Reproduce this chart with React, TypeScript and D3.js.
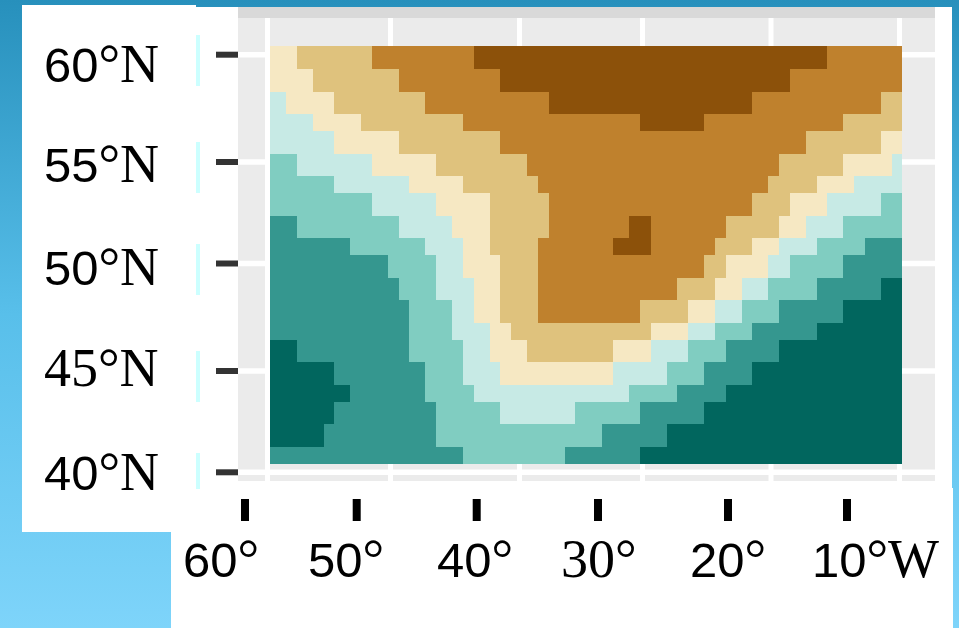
import React from "react";
import * as d3 from "d3";

const lonTicks = [-60, -50, -40, -30, -20, -10];
const latTicks = [60, 55, 50, 45, 40];
const lonLabels = ["60", "50", "40", "30", "20", "10"];
const latLabels = ["60", "55", "50", "45", "40"];
const serifDigits = ["45", "30"];

// cell edges in degrees
const lonEdges = [
  -59.8, -58.5, -57.6, -56.3, -55.41, -54.59, -53.29, -52.4, -51.5, -50.2,
  -49.34, -48.57, -47.33, -46.47, -45.23, -44.38, -43.53, -42.29, -41.51, -40.66,
  -39.39, -38.5, -37.6, -36.3, -35.49, -34.19, -33.29, -32.4, -31.1, -30.2,
  -29.34, -28.09, -27.32, -26.46, -25.21, -24.36, -23.5, -22.26, -21.48, -20.23,
  -19.38, -18.52, -17.28, -16.42, -15.64, -14.4, -13.54, -12.68, -11.44, -10.58, -9.81,
];
const latEdges = [
  60.4, 59.33, 58.26, 57.24, 56.44, 55.37, 54.31, 53.47, 52.34, 51.26, 50.42,
  49.33, 48.3, 47.23, 46.44, 45.42, 44.31, 43.47, 42.38, 41.25, 40.41,
];

// one row per latitude band, north to south: [level, end column]
const levelRuns: [number, number][][] = [
  [[3, 2], [2, 8], [1, 16], [0, 44], [1, 50]],
  [[3, 3], [2, 10], [1, 18], [0, 41], [1, 50]],
  [[4, 1], [3, 5], [2, 12], [1, 22], [0, 38], [1, 48], [2, 50]],
  [[4, 3], [3, 7], [2, 15], [1, 29], [0, 34], [1, 45], [2, 50]],
  [[4, 5], [3, 10], [2, 18], [1, 42], [2, 48], [3, 50]],
  [[5, 2], [4, 8], [3, 13], [2, 20], [1, 40], [2, 45], [3, 49], [4, 50]],
  [[5, 5], [4, 11], [3, 15], [2, 21], [1, 39], [2, 43], [3, 46], [4, 50]],
  [[5, 8], [4, 13], [3, 17], [2, 22], [1, 38], [2, 41], [3, 44], [4, 48], [5, 50]],
  [[6, 2], [5, 10], [4, 14], [3, 17], [2, 22], [1, 28], [0, 30], [1, 36], [2, 40], [3, 42], [4, 45], [5, 50]],
  [[6, 6], [5, 12], [4, 15], [3, 17], [2, 21], [1, 27], [0, 30], [1, 35], [2, 38], [3, 40], [4, 43], [5, 47], [6, 50]],
  [[6, 9], [5, 13], [4, 15], [3, 18], [2, 21], [1, 34], [2, 36], [3, 39], [4, 41], [5, 45], [6, 50]],
  [[6, 10], [5, 13], [4, 16], [3, 18], [2, 21], [1, 32], [2, 35], [3, 37], [4, 39], [5, 43], [6, 48], [7, 50]],
  [[6, 11], [5, 14], [4, 16], [3, 18], [2, 21], [1, 29], [2, 33], [3, 35], [4, 37], [5, 40], [6, 45], [7, 50]],
  [[6, 11], [5, 14], [4, 17], [3, 19], [2, 30], [3, 33], [4, 35], [5, 38], [6, 43], [7, 50]],
  [[7, 2], [6, 11], [5, 15], [4, 17], [3, 20], [2, 27], [3, 30], [4, 33], [5, 36], [6, 40], [7, 50]],
  [[7, 5], [6, 12], [5, 15], [4, 18], [3, 27], [4, 31], [5, 34], [6, 38], [7, 50]],
  [[7, 6], [6, 12], [5, 16], [4, 28], [5, 32], [6, 36], [7, 50]],
  [[7, 5], [6, 13], [5, 18], [4, 24], [5, 29], [6, 34], [7, 50]],
  [[7, 4], [6, 13], [5, 26], [6, 31], [7, 50]],
  [[6, 15], [5, 23], [6, 29], [7, 50]],
];

const levelColors = ["#8c510a", "#bf812d", "#dfc27d", "#f6e8c3", "#c7eae5", "#80cdc1", "#35978f", "#01665e"];

const W = 959;
const H = 628;
const SANS = "'Liberation Sans', Arial, sans-serif";
const SERIF = "'Liberation Serif', 'Times New Roman', serif";
const FS_SANS = 49;
const FS_SERIF = 54;

// the image was resampled unevenly, so the scales carry one knot per tick
const x = d3.scaleLinear().domain(lonTicks).range([267.5, 390.5, 519.5, 642.5, 771, 899.5]);
const y = d3.scaleLinear().domain(latTicks).range([54.7, 162, 263.5, 371, 472.3]);

// pasted-over labels and tick marks sit at their own spots
const xMark = d3.scaleOrdinal<number, number>().domain(lonTicks).range([245, 356.7, 476.7, 598, 728, 847]);
const xText = d3.scaleOrdinal<number, number>().domain(lonTicks).range([183, 308, 437, 561, 690, 812]);
const yText = d3.scaleOrdinal<number, number>().domain(latTicks).range([82, 182, 285, 386, 490]);
const yBar = d3.scaleOrdinal<number, number>().domain(latTicks).range([35, 142, 244, 351, 453]);
const barHeight = d3.scaleOrdinal<number, number>().domain(latTicks).range([51, 51, 51, 51, 36]);

// digits are in a sans face except where the label was set wholly in serif
const digitProps = (label: string) =>
  serifDigits.includes(label)
    ? { fontFamily: SERIF, fontSize: FS_SERIF }
    : { fontFamily: SANS, fontSize: FS_SANS };

const App: React.FC = () => {
  return (
    <svg width={W} height={H} style={{ position: "absolute", left: 0, top: 0, display: "block" }}>
      <defs>
        <linearGradient id="bg" x1="0" y1="0" x2="0" y2="1">
          <stop offset="0" stopColor="#2790bc" />
          <stop offset="0.5" stopColor="#58bfea" />
          <stop offset="1" stopColor="#7ed4fa" />
        </linearGradient>
      </defs>
      <rect width={W} height={H} fill="url(#bg)" />

      {/* white patches */}
      <rect x={22} y={5} width={174} height={527} fill="#ffffff" />
      <rect x={196} y={7} width={756} height={500} fill="#ffffff" />
      <rect x={171} y={488} width={782} height={140} fill="#ffffff" />

      {/* panel */}
      <rect x={238} y={18} width={697} height={463} fill="#ebebeb" />
      <rect x={238} y={7} width={697} height={11} fill="#d9d9d9" />
      {lonTicks.map((d) => (
        <line key={d} x1={x(d)} x2={x(d)} y1={18} y2={481} stroke="#ffffff" strokeWidth={5} />
      ))}
      {latTicks.map((d) => (
        <line key={d} x1={238} x2={935} y1={y(d)} y2={y(d)} stroke="#ffffff" strokeWidth={5.5} />
      ))}

      {/* raster */}
      {levelRuns.map((runs, row) =>
        runs.map(([level, end], i) => {
          const start = i === 0 ? 0 : runs[i - 1][1];
          return (
            <rect
              key={`${row}-${i}`}
              x={x(lonEdges[start])}
              y={y(latEdges[row])}
              width={x(lonEdges[end]) - x(lonEdges[start])}
              height={y(latEdges[row + 1]) - y(latEdges[row])}
              fill={levelColors[level]}
              shapeRendering="crispEdges"
            />
          );
        })
      )}

      {/* latitude axis */}
      {latTicks.map((d, i) => (
        <g key={d}>
          <line x1={216} x2={238} y1={y(d)} y2={y(d)} stroke="#333333" strokeWidth={6} />
          <rect x={196} y={yBar(d)} width={4} height={barHeight(d)} fill="#ccffff" />
          <text x={44} y={yText(d)} fontSize={FS_SERIF} fill="#000000" fontFamily={SERIF}>
            <tspan {...digitProps(latLabels[i])}>{latLabels[i]}</tspan>
            °N
          </text>
        </g>
      ))}

      {/* longitude axis */}
      {lonTicks.map((d, i) => (
        <g key={d}>
          <line x1={xMark(d)} x2={xMark(d)} y1={499} y2={521} stroke="#000000" strokeWidth={8} />
          <text x={xText(d)} y={577} fontSize={FS_SERIF} fill="#000000" fontFamily={SERIF}>
            <tspan {...digitProps(lonLabels[i])}>{lonLabels[i]}</tspan>
            {i === lonTicks.length - 1 ? "°W" : "°"}
          </text>
        </g>
      ))}
    </svg>
  );
};

export default App;
